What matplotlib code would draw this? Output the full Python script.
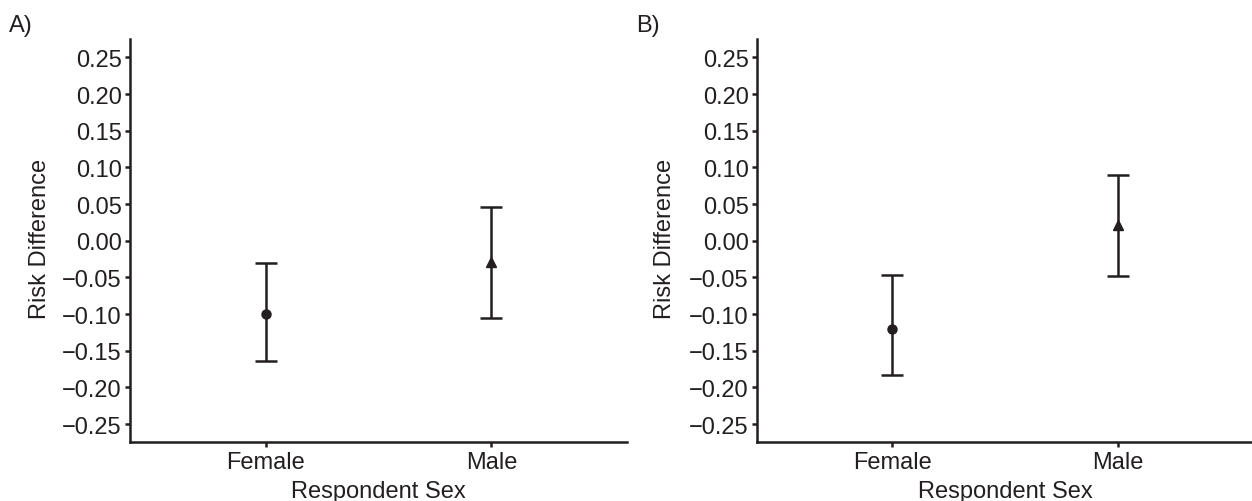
import matplotlib
matplotlib.use("Agg")
import matplotlib.pyplot as plt
from matplotlib.ticker import FuncFormatter

plt.rcParams['font.family'] = ['Liberation Sans', 'DejaVu Sans']

categories = ["Female", "Male"]
markers = ["o", "^"]

# Panel A
a_est = [-0.100, -0.029]
a_low = [-0.164, -0.105]
a_high = [-0.031, 0.046]

# Panel B
b_est = [-0.120, 0.021]
b_low = [-0.183, -0.048]
b_high = [-0.047, 0.089]

yticks = [0.25, 0.20, 0.15, 0.10, 0.05, 0.00, -0.05, -0.10, -0.15, -0.20, -0.25]
panel_labels = ["A)", "B)"]
xlabel = "Respondent Sex"
ylabel = "Risk Difference"

INK = "#231f20"
FS = 17

fig = plt.figure(figsize=(12.52, 5.02), dpi=100)
W, H = 1252, 502
ax_boxes = [(130, 627), (757, 1253)]
panel_label_x = [9, 636]
ylabel_x = [40, 665]
top_px, bot_px = 40, 443


def fmt(v, pos):
    s = f"{abs(v):.2f}"
    return ("\u2212" + s) if v < -1e-9 else s


for (l, r), lab, lx, yx, est, low, high in zip(ax_boxes, panel_labels, panel_label_x, ylabel_x,
                                               [a_est, b_est], [a_low, b_low], [a_high, b_high]):
    aw, ah = r - l, bot_px - top_px
    ax = fig.add_axes([l / W, (H - bot_px) / H, aw / W, ah / H])
    xs = list(range(1, len(categories) + 1))
    for x, e, lo, hi, m in zip(xs, est, low, high, markers):
        ax.errorbar([x], [e], yerr=[[e - lo], [hi - e]], fmt=m, color=INK,
                    ecolor=INK, elinewidth=1.8, capsize=8, capthick=1.8,
                    markersize=6.5 if m == "o" else 7.5, zorder=3)
    ax.set_xlim(0.4, 2.6)
    ax.set_ylim(-0.2745, 0.275)
    ax.set_xticks(xs)
    ax.set_xticklabels(categories)
    ax.set_yticks(yticks)
    ax.yaxis.set_major_formatter(FuncFormatter(fmt))
    for sp in ["top", "right"]:
        ax.spines[sp].set_visible(False)
    for sp in ["left", "bottom"]:
        ax.spines[sp].set_linewidth(1.8)
        ax.spines[sp].set_color(INK)
    ax.tick_params(axis="both", direction="out", length=3.5, width=1.8,
                   color=INK, labelcolor=INK, labelsize=FS)
    ax.tick_params(axis="y", pad=2.5)
    ax.tick_params(axis="x", pad=3)
    ax.set_xlabel(xlabel, fontsize=FS, color=INK)
    ax.xaxis.label.set_va("baseline")
    ax.xaxis.set_label_coords(0.5, (bot_px - 498) / ah)
    ax.set_ylabel(ylabel, fontsize=FS, color=INK)
    ax.yaxis.label.set_va("center")
    ax.yaxis.set_label_coords((yx - l) / aw, (bot_px - 239) / ah)
    fig.text(lx / W, (H - 32) / H, lab, fontsize=FS, color=INK,
             ha="left", va="baseline")

fig.savefig("out.png", dpi=100)
